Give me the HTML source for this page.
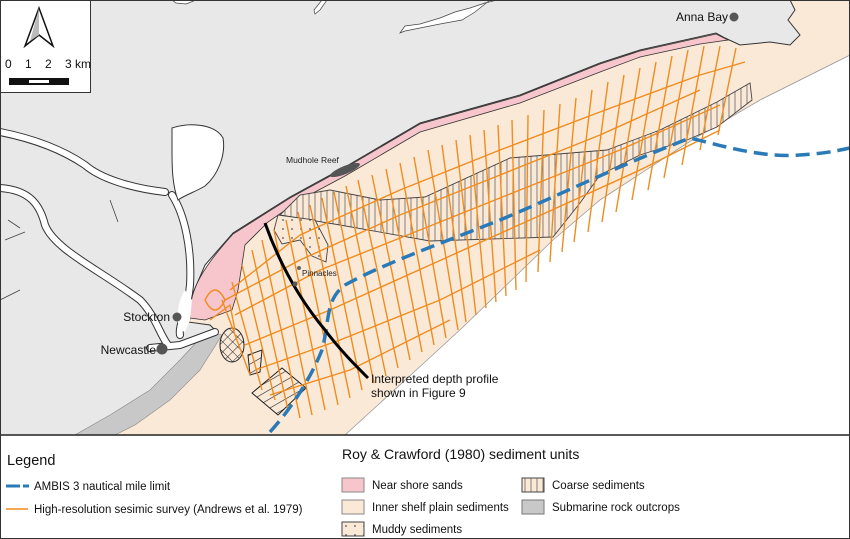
<!DOCTYPE html>
<html><head><meta charset="utf-8"><style>
html,body{margin:0;padding:0;background:#fff}
svg{display:block;font-family:"Liberation Sans","DejaVu Sans",sans-serif}
</style></head><body>
<svg width="850" height="539" viewBox="0 0 850 539" xmlns="http://www.w3.org/2000/svg">
<defs>
<pattern id="vh" width="6" height="6" patternUnits="userSpaceOnUse"><rect width="6" height="6" fill="#fbe9d8"/><line x1="3" y1="0" x2="3" y2="6" stroke="#666" stroke-width="0.8"/></pattern>
<pattern id="dots" width="9" height="9" patternUnits="userSpaceOnUse"><rect width="9" height="9" fill="#fbe9d8"/><circle cx="4" cy="4" r="0.9" fill="#555"/></pattern>
<pattern id="xh" width="7" height="7" patternUnits="userSpaceOnUse" patternTransform="rotate(45)"><line x1="0" y1="0" x2="0" y2="7" stroke="#222" stroke-width="1"/><line x1="0" y1="0" x2="7" y2="0" stroke="#222" stroke-width="1"/></pattern>
<pattern id="dh" width="8" height="8" patternUnits="userSpaceOnUse" patternTransform="rotate(-30)"><line x1="0" y1="0" x2="8" y2="0" stroke="#222" stroke-width="1.2"/></pattern>
</defs>
<rect x="0" y="0" width="850" height="435" fill="#fff"/>
<!-- inner shelf beige -->
<path d="M0,435 L0,300 L190,320 L233,233 L345,167 L420,123 L520,95 L640,50 L716,32 L790,0 L850,0 L850,55 L760,100 L692,140 L600,200 L553,240 L463,327 L425,362 L345,435 Z" fill="#fbe9d8" stroke="#999" stroke-width="0.8"/>
<!-- land -->
<path d="M0,0 L790,0 L795,10 L788,20 L800,35 L790,45 L770,42 L740,45 L725,38 L716,33 L640,50 L600,63 L520,95 L420,123 L345,167 L290,197 L233,233 L205,265 L190,300 L188,322 L210,325 L215,330 L195,360 L160,390 L120,415 L90,435 L0,435 Z" fill="#e8e8e8" stroke="#333" stroke-width="1"/>
<!-- rock outcrop -->
<path d="M205,333 L222,335 L200,370 L170,400 L135,425 L115,435 L75,435 L110,415 L150,390 L180,360 Z" fill="#c8c8c8" stroke="#888" stroke-width="0.6"/>
<!-- pink near shore -->
<path d="M190,318 C188,290 205,265 233,234 L290,198 L345,168 L420,124 L520,96 L600,64 L640,51 L716,34 L728,40 L700,44 L640,57 L600,72 L520,103 L420,132 L345,176 L300,200 L268,222 L245,245 L238,290 L232,310 L205,320 Z" fill="#f6c6cc" stroke="#333" stroke-width="0.8"/>
<!-- rivers -->
<g fill="none" stroke-linecap="round" stroke-linejoin="round">
<g stroke="#333" stroke-width="8">
<path d="M0,132 C30,138 60,148 85,165 C100,178 130,188 165,192"/>
<path d="M0,188 C30,190 40,205 45,225 C55,250 100,270 140,300 C155,315 160,335 168,345"/>
<path d="M172,195 C185,215 192,250 190,285 C188,310 178,325 180,335"/>
<path d="M150,348 L180,345 L215,332"/>
</g>
<g stroke="#fff" stroke-width="6">
<path d="M0,132 C30,138 60,148 85,165 C100,178 130,188 165,192"/>
<path d="M0,188 C30,190 40,205 45,225 C55,250 100,270 140,300 C155,315 160,335 168,345"/>
<path d="M172,195 C185,215 192,250 190,285 C188,310 178,325 180,335"/>
<path d="M150,348 L180,345 L215,332"/>
</g>
</g>
<path d="M172,128 C190,122 215,124 223,138 C226,155 218,175 205,186 C195,192 185,195 178,200 C172,185 172,165 172,150 Z" fill="#fff" stroke="#333" stroke-width="1"/>
<path d="M180,330 C175,320 178,300 185,290 L192,300 L190,320 L185,332 Z" fill="#fff"/>
<path d="M5,240 L25,232 M8,220 L20,228 M0,300 L20,290 M110,200 L118,222" stroke="#444" stroke-width="0.8" fill="none"/>
<!-- top inlets -->
<path d="M172,0 L196,0 L186,4 L176,3 Z" fill="#fff" stroke="#444" stroke-width="0.7"/>
<path d="M322,0 L327,0 L320,10 L315,14 L314,10 Z" fill="#fff" stroke="#444" stroke-width="0.7"/>
<path d="M400,33 L405,26 L420,24 L440,18 L455,12 L470,8 L485,3 L497,0 L490,0 L475,12 L462,20 L440,24 L420,28 L405,31 Z" fill="#fff" stroke="#444" stroke-width="0.7"/>
<!-- coarse sediments -->
<path d="M280,215 L300,195 L330,190 L380,200 L425,197 L510,158 L607,150 L660,130 L717,102 L750,83 L752,100 L717,127 L687,140 L640,155 L600,175 L580,203 L553,237 L430,241 L340,225 Z" fill="url(#vh)" stroke="#444" stroke-width="0.9"/>
<!-- muddy -->
<path d="M278,215 L315,220 L328,245 L326,262 L312,256 L300,240 L282,244 L274,230 Z" fill="url(#dots)" stroke="#444" stroke-width="0.9"/>
<!-- cross-hatched -->
<ellipse cx="232" cy="345" rx="12" ry="17" fill="url(#xh)" stroke="#222"/>
<path d="M248,355 L262,350 L260,372 L250,375 Z" fill="url(#dh)" stroke="#222"/>
<path d="M252,393 L282,368 L306,388 L278,415 Z" fill="url(#dh)" stroke="#222"/>
<!-- orange survey lines -->
<g fill="none" stroke="#f08c1e" stroke-width="1.4" stroke-linejoin="round">
<path d="M222,300 L250,375 M232,282 L262,390 M242,265 L275,400 M252,250 L288,410 M262,240 L300,418 M274,230 L312,415 M286,220 L325,410 M298,212 L338,405 M310,205 L350,398 M322,198 L362,390 M334,192 L374,383 M346,186 L386,376 M358,180 L398,368 M372,175 L410,360 M386,169 L422,352 M400,163 L434,345 M414,157 L446,338 M428,150 L458,330 M442,145 L466,322 M456,140 L476,315 M470,135 L486,308 M484,130 L496,302 M498,125 L506,296 M512,120 L516,290 M528,115 L526,282 M544,110 L538,272 M560,104 L550,262 M576,98 L562,252 M592,90 L574,242 M608,82 L588,232 M624,75 L602,222 M640,68 L616,212 M656,62 L632,200 M672,56 L648,190 M688,50 L664,178 M704,46 L682,165 M720,46 L700,150 M736,48 L718,135"/>
<path d="M230,290 L300,235 L400,190 L500,150 L600,112 L700,75 L745,62 M235,315 L320,270 L420,230 L520,190 L620,150 L720,105 M245,345 L330,310 L430,265 L530,220 L640,170 L720,130 M255,370 L340,340 L440,300 L540,250 M270,395 L350,370 L450,320 M225,300 L300,260 L400,215 L500,175 L600,135 L700,90"/>
<path d="M205,300 Q215,280 225,300 Q215,320 205,300 M210,320 L230,305 L235,330"/>
</g>
<!-- mudhole reef -->
<ellipse cx="345" cy="170" rx="16" ry="4" transform="rotate(-22 345 170)" fill="#555"/>
<!-- blue AMBIS -->
<path d="M270,432 C290,410 310,380 322,350 C330,320 325,300 345,285 C380,265 450,240 500,220 C560,195 620,165 690,138 C720,145 760,158 800,155 C830,153 840,150 850,148" fill="none" stroke="#2a7ab8" stroke-width="3.5" stroke-dasharray="14 7"/>
<!-- profile line -->
<path d="M265,223 C280,265 300,300 325,330 C340,350 355,365 368,378" fill="none" stroke="#000" stroke-width="3"/>
<circle cx="299" cy="268" r="2" fill="#666"/><circle cx="295" cy="284" r="2.5" fill="#555"/>
<g font-size="12" fill="#111">
<text x="371" y="383">Interpreted depth profile</text>
<text x="371" y="397">shown in Figure 9</text>
<text x="170" y="321" text-anchor="end">Stockton</text>
<text x="156" y="354" text-anchor="end">Newcastle</text>
<text x="728" y="21" text-anchor="end">Anna Bay</text>
</g>
<circle cx="177" cy="317" r="4.5" fill="#555"/>
<circle cx="162" cy="349" r="5.5" fill="#555"/>
<circle cx="734" cy="17" r="4.5" fill="#555"/>
<text x="286" y="163" font-size="8.5" fill="#222">Mudhole Reef</text>
<text x="302" y="276" font-size="8" fill="#222">Pinnacles</text>
<!-- north arrow box -->
<rect x="0.5" y="0.5" width="90" height="92" fill="#fff" stroke="#333"/>
<path d="M39,8 L25,46 L39,35 L53,46 Z" fill="#fff" stroke="#111" stroke-width="1.5"/>
<path d="M39,8 L39,35 L30,41 Z" fill="#bbb"/>
<text x="5" y="68" font-size="12" fill="#111">0</text><text x="25" y="68" font-size="12" fill="#111">1</text><text x="45" y="68" font-size="12" fill="#111">2</text><text x="65" y="68" font-size="12" fill="#111">3 km</text>
<rect x="9" y="78" width="60" height="7" fill="#111"/><rect x="29" y="80" width="20" height="3" fill="#fff"/>
<!-- legend -->
<rect x="0" y="435" width="850" height="104" fill="#fff"/>
<line x1="0" y1="435" x2="850" y2="435" stroke="#222" stroke-width="1.5"/>
<text x="7" y="465" font-size="14.5" fill="#111">Legend</text>
<line x1="6" y1="486" x2="20" y2="486" stroke="#2a7ab8" stroke-width="3"/><line x1="23" y1="486" x2="29" y2="486" stroke="#2a7ab8" stroke-width="3"/>
<text x="34" y="490" font-size="11.5" fill="#111">AMBIS 3 nautical mile limit</text>
<line x1="6" y1="509" x2="28" y2="509" stroke="#f08c1e" stroke-width="1.5"/>
<text x="34" y="513" font-size="11.5" fill="#111">High-resolution sesimic survey (Andrews et al. 1979)</text>
<text x="342" y="459" font-size="14" fill="#111">Roy &amp; Crawford (1980) sediment units</text>
<rect x="342" y="478" width="22" height="14" fill="#f6c6cc" stroke="#888"/>
<text x="372" y="489" font-size="11.5" fill="#111">Near shore sands</text>
<rect x="342" y="500" width="22" height="14" fill="#fbe9d8" stroke="#888"/>
<text x="372" y="511" font-size="11.5" fill="#111">Inner shelf plain sediments</text>
<rect x="342" y="522" width="22" height="14" fill="url(#dots)" stroke="#444"/>
<text x="372" y="533" font-size="11.5" fill="#111">Muddy sediments</text>
<rect x="522" y="478" width="22" height="14" fill="url(#vh)" stroke="#444"/>
<text x="552" y="489" font-size="11.5" fill="#111">Coarse sediments</text>
<rect x="522" y="500" width="22" height="14" fill="#c8c8c8" stroke="#777"/>
<text x="552" y="511" font-size="11.5" fill="#111">Submarine rock outcrops</text>
<rect x="0.5" y="0.5" width="849" height="538" fill="none" stroke="#333"/>
</svg>
</body></html>
